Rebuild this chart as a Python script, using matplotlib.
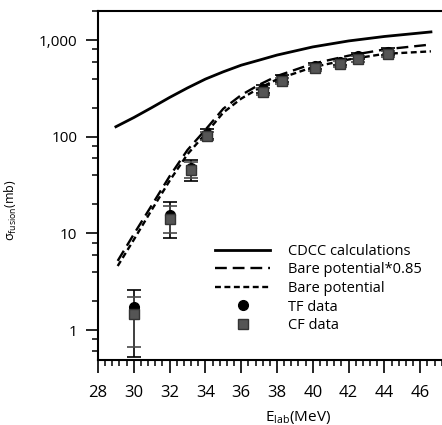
import matplotlib
matplotlib.use('Agg')
import matplotlib.pyplot as plt
from matplotlib.lines import Line2D
from matplotlib.ticker import FixedLocator, FuncFormatter, AutoMinorLocator, NullFormatter

plt.rcParams['font.family'] = ['Open Sans', 'DejaVu Sans']
plt.rcParams['mathtext.fontset'] = 'custom'
plt.rcParams['mathtext.rm'] = 'Open Sans'

# Расчёты (кривые)
e_calc = [29.0, 30, 31, 32, 33, 34, 35, 36, 37, 38, 40, 42, 44, 46.6]
cdcc = [127, 158, 200, 255, 320, 395, 470, 550, 620, 700, 850, 980, 1090, 1215]
e_bare = [29.1, 30, 31, 32, 33, 34, 35, 36, 37, 38, 40, 42, 44, 46.6]
bare_085 = [5.2, 9.8, 19.5, 39, 73, 118, 195, 270, 345, 425, 570, 690, 800, 900]
bare = [4.6, 8.6, 17.5, 35, 66, 107, 178, 248, 318, 392, 525, 630, 720, 765]

# Экспериментальные данные
e_exp = [30, 32, 33.2, 34.1, 37.2, 38.3, 40.1, 41.5, 42.5, 44.2]
tf = [1.75, 15.5, 48, 108, 312, 400, 540, 600, 680, 762]
tf_lo = [0.53, 8.9, 35, 95, 285, 368, 500, 555, 630, 705]
tf_hi = [2.6, 21, 58, 120, 340, 432, 580, 645, 730, 820]
cf = [1.45, 14, 45, 102, 292, 378, 512, 568, 645, 725]
cf_lo = [0.67, 10, 37, 92, 268, 350, 475, 528, 600, 672]
cf_hi = [2.2, 19, 55, 113, 318, 405, 550, 608, 690, 778]

fig = plt.figure(figsize=(4.42, 4.25), dpi=100)
ax = fig.add_axes([98 / 442, 65 / 425, 358 / 442, 349 / 425])

ax.plot(e_calc, cdcc, color='black', lw=2.0)
ax.plot(e_bare, bare_085, color='black', lw=1.7, linestyle=(0, (5, 2.5)))
ax.plot(e_bare, bare, color='black', lw=1.7, linestyle=(0, (2.5, 1.5)))

ax.errorbar(e_exp, tf, yerr=[[t - l for t, l in zip(tf, tf_lo)], [h - t for t, h in zip(tf, tf_hi)]],
            fmt='o', color='black', ms=7, capsize=5, elinewidth=1.2, capthick=1.2)
ax.errorbar(e_exp, cf, yerr=[[c - l for c, l in zip(cf, cf_lo)], [h - c for c, h in zip(cf, cf_hi)]],
            fmt='s', color='#4a4a4a', mfc='#555555', mec='#333333', ms=7.5, capsize=5,
            elinewidth=1.2, capthick=1.2)

ax.set_yscale('log')
ax.set_xlim(28, 48)
ax.set_ylim(0.49, 2000)

ax.xaxis.set_major_locator(FixedLocator(range(28, 48, 2)))
ax.xaxis.set_minor_locator(AutoMinorLocator(5))
ax.yaxis.set_major_locator(FixedLocator([1, 10, 100, 1000]))
ax.yaxis.set_major_formatter(FuncFormatter(lambda v, p: f'{v:,.0f}'))
ax.yaxis.set_minor_locator(FixedLocator([m * 10 ** k for k in range(-1, 4) for m in (2, 4, 6, 8)]))
ax.yaxis.set_minor_formatter(NullFormatter())

ax.tick_params(which='major', direction='out', length=9, width=1.2, labelsize=12, pad=6)
ax.tick_params(which='minor', direction='out', length=4.5, width=1.1)
ax.tick_params(axis='x', which='major', pad=9)
ax.tick_params(axis='y', which='major', labelsize=11)
for s in ['left', 'bottom', 'top']:
    ax.spines[s].set_linewidth(1.5)
ax.spines['right'].set_visible(False)

ax.set_ylabel(r'σ$_{\mathrm{fusion}}$(mb)', fontsize=9)
ax.yaxis.set_label_coords(-0.22, 0.43)
ax.set_xlabel(r'E$_{\mathrm{lab}}$(MeV)', fontsize=11)
ax.xaxis.set_label_coords(0.56, -0.14)

handles = [
    Line2D([], [], color='black', lw=2.0),
    Line2D([], [], color='black', lw=1.7, linestyle=(0, (5, 2.5))),
    Line2D([], [], color='black', lw=1.7, linestyle=(0, (2.5, 1.5))),
    Line2D([], [], color='black', marker='o', ms=7, lw=0),
    Line2D([], [], color='#555555', marker='s', ms=7, lw=0, mec='#333333'),
]
labels = ['CDCC calculations', 'Bare potential*0.85', 'Bare potential', 'TF data', 'CF data']
ax.legend(handles, labels, loc='lower left', bbox_to_anchor=(0.31, 0.06), frameon=False,
          fontsize=10.5, handlelength=3.8, handletextpad=1.2, labelspacing=0.25,
          borderaxespad=0)

fig.savefig('out.png', dpi=100)
